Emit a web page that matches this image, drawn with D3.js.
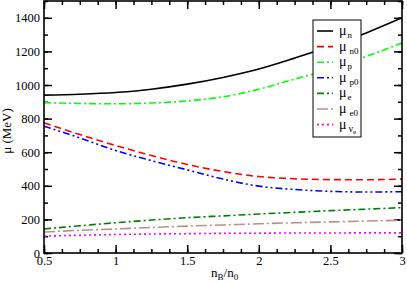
<html>
<head>
    <script src="https://d3js.org/d3.v7.min.js"></script>
    <style>
        body { margin: 0; background: #fff; }
    </style>
</head>
<body>
    <svg id="chart" width="407" height="284"></svg>
    <script>
        // density n_B/n_0
        var nb = [0.5, 0.75, 1, 1.25, 1.5, 1.75, 2, 2.25, 2.5, 2.75, 3];

        // chemical potentials (MeV)
        var muN   = [940, 945, 955, 975, 1005, 1045, 1095, 1160, 1230, 1310, 1400];
        var muN0  = [775, 705, 640, 580, 527, 485, 455, 442, 437, 436, 440];
        var muP   = [895, 890, 888, 893, 905, 930, 975, 1035, 1095, 1170, 1250];
        var muP0  = [755, 685, 610, 550, 495, 440, 398, 378, 367, 363, 365];
        var muE   = [143, 162, 180, 196, 210, 221, 232, 242, 252, 261, 270];
        var muE0  = [125, 135, 143, 152, 160, 167, 174, 180, 185, 190, 195];
        var muNuE = [100, 106, 110, 113, 115, 117, 118, 119, 119, 120, 120];

        var xTicks = [0.5, 1, 1.5, 2, 2.5, 3];
        var yTicks = [0, 200, 400, 600, 800, 1000, 1200, 1400];

        var series = [
            { sub: "n",  vals: muN,   color: "#000000", dash: null },
            { sub: "n0", vals: muN0,  color: "#ff0000", dash: "7,4" },
            { sub: "p",  vals: muP,   color: "#00ff00", dash: "7,3,2,3" },
            { sub: "p0", vals: muP0,  color: "#0000ff", dash: "7,3,2,3,2,3" },
            { sub: "e",  vals: muE,   color: "#008000", dash: "7,3,2,3" },
            { sub: "e0", vals: muE0,  color: "#bc8f8f", dash: "11,3,2,3" },
            { sub: "ve", vals: muNuE, color: "#ff00ff", dash: "2,3" }
        ];

        var FONT = "'Liberation Serif', 'Times New Roman', serif";
        var svg = d3.select("#chart");
        var L = 44, R = 402, T = 1, B = 253;

        var x = d3.scaleLinear().domain([0.5, 3]).range([L, R]);
        var y = d3.scaleLinear().domain([0, 1500]).range([B, T]);

        var xMinor = d3.range(0.5, 3.0001, 0.125);
        var yMinor = d3.range(0, 1500.1, 100);

        function tickStyle(g) {
            g.attr("font-family", FONT).attr("font-size", 12.5);
            g.select(".domain").remove();
            g.selectAll("line").attr("stroke", "#000").attr("stroke-width", 1.5);
            g.selectAll("text").attr("fill", "#000");
        }

        // bottom
        svg.append("g").attr("transform", "translate(0," + B + ")")
            .call(d3.axisBottom(x).tickValues(xMinor).tickSize(-4).tickFormat(""))
            .call(tickStyle);
        svg.append("g").attr("transform", "translate(0," + B + ")")
            .call(d3.axisBottom(x).tickValues(xTicks).tickSize(-8).tickPadding(3)
                .tickFormat(d3.format("")))
            .call(tickStyle);
        // top
        svg.append("g").attr("transform", "translate(0," + T + ")")
            .call(d3.axisTop(x).tickValues(xMinor).tickSize(-4).tickFormat(""))
            .call(tickStyle);
        svg.append("g").attr("transform", "translate(0," + T + ")")
            .call(d3.axisTop(x).tickValues(xTicks).tickSize(-8).tickFormat(""))
            .call(tickStyle);
        // left
        svg.append("g").attr("transform", "translate(" + L + ",0)")
            .call(d3.axisLeft(y).tickValues(yMinor).tickSize(-4).tickFormat(""))
            .call(tickStyle);
        svg.append("g").attr("transform", "translate(" + L + ",0)")
            .call(d3.axisLeft(y).tickValues(yTicks).tickSize(-8).tickPadding(4)
                .tickFormat(d3.format("d")))
            .call(tickStyle);
        // right
        svg.append("g").attr("transform", "translate(" + R + ",0)")
            .call(d3.axisRight(y).tickValues(yMinor).tickSize(-4).tickFormat(""))
            .call(tickStyle);
        svg.append("g").attr("transform", "translate(" + R + ",0)")
            .call(d3.axisRight(y).tickValues(yTicks).tickSize(-8).tickFormat(""))
            .call(tickStyle);

        // curves
        var line = d3.line()
            .x((d, i) => x(nb[i]))
            .y((d) => y(d))
            .curve(d3.curveMonotoneX);

        svg.append("g")
            .selectAll("path")
            .data(series)
            .enter()
            .append("path")
            .attr("d", (s) => line(s.vals))
            .attr("fill", "none")
            .attr("stroke", (s) => s.color)
            .attr("stroke-width", 1.6)
            .attr("stroke-dasharray", (s) => s.dash);

        // frame
        svg.append("rect")
            .attr("x", L).attr("y", T)
            .attr("width", R - L).attr("height", B - T)
            .attr("fill", "none").attr("stroke", "#000").attr("stroke-width", 1.6);

        // legend
        var lg = svg.append("g").attr("font-family", FONT);
        lg.append("rect")
            .attr("x", 313).attr("y", 20).attr("width", 48).attr("height", 117)
            .attr("fill", "#fff").attr("stroke", "#000").attr("stroke-width", 1);

        var rows = lg.selectAll("g.row")
            .data(series)
            .enter()
            .append("g")
            .attr("transform", (s, i) => "translate(0," + (31 + i * 15.6) + ")");

        rows.append("line")
            .attr("x1", 317).attr("x2", 333)
            .attr("y1", 0).attr("y2", 0)
            .attr("stroke", (s) => s.color)
            .attr("stroke-width", 1.6)
            .attr("stroke-dasharray", (s) => s.dash);

        var lt = rows.append("text")
            .attr("x", 339).attr("y", 4)
            .attr("font-size", 14);
        lt.append("tspan").text("μ");
        lt.each(function (s) {
            var t = d3.select(this);
            if (s.sub === "ve") {
                t.append("tspan").attr("dx", 2).attr("dy", 3).attr("font-size", 10).text("ν");
                t.append("tspan").attr("dy", 2).attr("font-size", 7).text("e");
            } else {
                t.append("tspan").attr("dx", s.sub.length > 1 ? 3 : 1).attr("dy", 3)
                    .attr("font-size", 9).text(s.sub);
            }
        });

        // axis titles
        var xl = svg.append("text")
            .attr("x", 211).attr("y", 277)
            .attr("font-family", FONT)
            .attr("font-size", 13);
        xl.append("tspan").text("n");
        xl.append("tspan").attr("dy", 3).attr("font-size", 9).text("B");
        xl.append("tspan").attr("dy", -3).text("/n");
        xl.append("tspan").attr("dy", 3).attr("font-size", 9).text("0");

        svg.append("text")
            .attr("transform", "translate(11,131) rotate(-90)")
            .attr("text-anchor", "middle")
            .attr("font-family", FONT)
            .attr("font-size", 13)
            .text("μ (MeV)");
    </script>
</body>
</html>
